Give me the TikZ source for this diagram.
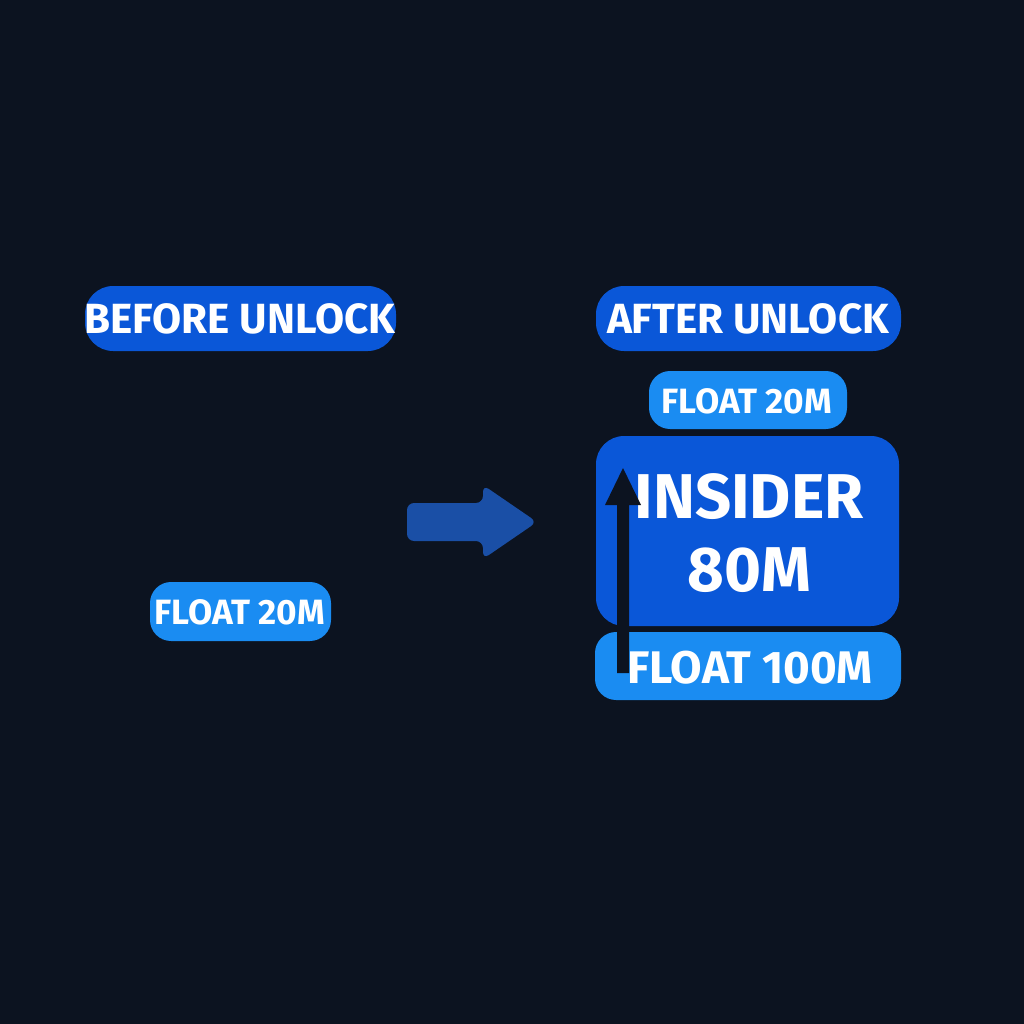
\documentclass[tikz,border=0pt]{standalone}
\usepackage{fontspec}
\setmainfont{Fira Sans}
\begin{document}
\begin{tikzpicture}[x=0.01cm,y=-0.01cm,
  dark/.style={fill=darkblue,draw=none,rounded corners=8},
  light/.style={fill=lightblue,draw=none,rounded corners=6},
  lbl/.style={text=white,font=\bfseries}]
\definecolor{bg}{HTML}{0C1320}
\definecolor{darkblue}{HTML}{0A57D8}
\definecolor{lightblue}{HTML}{1A8CF2}
\definecolor{arr}{HTML}{1A4FA6}
\fill[bg] (0,0) rectangle (1024,1024);
\useasboundingbox (0,0) rectangle (1024,1024);
\fill[dark] (85,286) rectangle (396,351);
\node[lbl,font=\bfseries\fontsize{12}{14}\selectfont] (before) at (240,319) {BEFORE UNLOCK};
\fill[dark] (596,286) rectangle (901,351);
\node[lbl,font=\bfseries\fontsize{12}{14}\selectfont] (after) at (748,319) {AFTER UNLOCK};
\fill[light] (150,582) rectangle (331,641);
\node[lbl,font=\bfseries\fontsize{10}{12}\selectfont] (f1) at (240,612) {FLOAT 20M};
\fill[light] (649,371) rectangle (847,429);
\node[lbl,font=\bfseries\fontsize{10}{12}\selectfont] (f2) at (747,401) {FLOAT 20M};
\fill[dark] (596,436) rectangle (899,626);
\node[lbl,align=center,font=\bfseries\fontsize{18}{21}\selectfont] (ins) at (749,533) {INSIDER\\80M};
\fill[light] (595,632) rectangle (901,700);
\node[lbl,font=\bfseries\fontsize{13}{15}\selectfont] (f3) at (750,668) {FLOAT 100M};
\fill[arr,rounded corners=2] (407,503) -- (483,503) -- (483,485) -- (537,522) -- (483,559) -- (483,541) -- (407,541) -- cycle;
\fill[bg] (617,673) -- (629,673) -- (629,505) -- (641,505) -- (623,468) -- (605,505) -- (617,505) -- cycle;
\end{tikzpicture}
\end{document}
